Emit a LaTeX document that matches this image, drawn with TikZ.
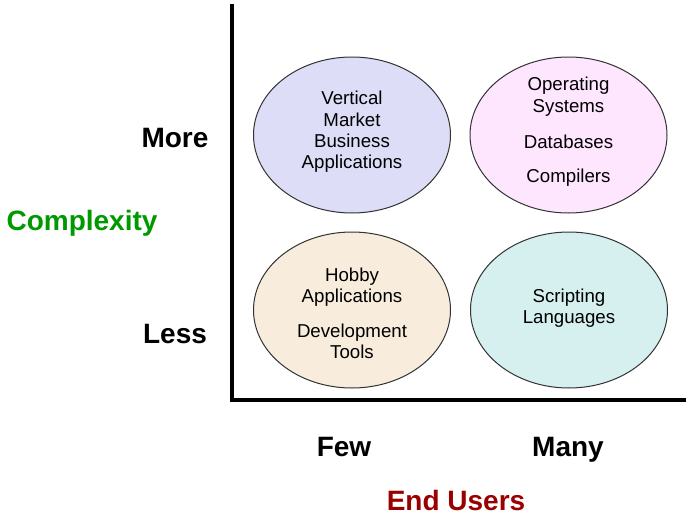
\documentclass[tikz,border=0pt]{standalone}
\usepackage{fontspec}
\setmainfont{Liberation Sans}
\usetikzlibrary{shapes.geometric}
\definecolor{lav}{RGB}{221,221,248}
\definecolor{pinkish}{RGB}{255,230,255}
\definecolor{beige}{RGB}{248,236,220}
\definecolor{aqua}{RGB}{213,240,238}
\definecolor{cgreen}{RGB}{0,153,0}
\definecolor{cred}{RGB}{153,0,0}
\tikzset{
  blob/.style={ellipse, draw=black!80, line width=0.75pt, minimum width=197*0.75pt, minimum height=156*0.75pt, inner sep=0pt},
  inner/.style={align=center, font=\fontsize{14}{16}\selectfont, inner sep=0pt},
  axlabel/.style={font=\fontsize{21}{24}\selectfont\bfseries, inner sep=0pt, anchor=base},
  axis/.style={line width=2.4pt, line cap=rect}
}
\begin{document}
\begin{tikzpicture}[x=0.75pt, y=-0.75pt]
\useasboundingbox (0,0) rectangle (686,514);
% axes
\coordinate (top) at (232,6);
\coordinate (origin) at (232,400);
\coordinate (right) at (686,400);
\draw[axis] (top) -- (origin) -- (right);
% ellipses
\node[blob, fill=lav] (vm) at (352,135) {};
\node[blob, fill=pinkish] (os) at (568.5,135) {};
\node[blob, fill=beige] (hb) at (352,310) {};
\node[blob, fill=aqua] (sl) at (569,310) {};
% texts
\node[inner] (vmt) at (352,132) {Vertical\\Market\\Business\\Applications};
\node[inner] (ost) at (568.5,132) {Operating\\Systems\\[11pt]Databases\\[10pt]Compilers};
\node[inner] (hbt) at (352,313) {Hobby\\Applications\\[10pt]Development\\Tools};
\node[inner] (slt) at (569,308.5) {Scripting\\Languages};
% axis labels
\node[axlabel] (more) at (175,147) {More};
\node[axlabel] (less) at (175,343) {Less};
\node[axlabel, text=cgreen] (cx) at (82,230) {Complexity};
\node[axlabel] (few) at (344,456) {Few};
\node[axlabel] (many) at (568,456) {Many};
\node[axlabel, text=cred] (eu) at (456,510) {End Users};
\end{tikzpicture}
\end{document}
